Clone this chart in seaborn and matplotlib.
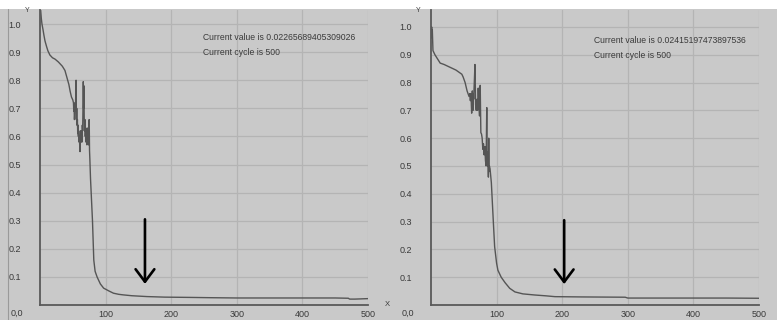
import matplotlib
matplotlib.use("Agg")
import matplotlib.pyplot as plt
import seaborn as sns
import pandas as pd
from matplotlib.patches import Rectangle
from matplotlib.lines import Line2D

# ---- data ----
left_cycle = [0, 1, 2, 3, 4.6, 6, 7.6, 10, 12, 15, 19, 23, 28, 34, 38, 41, 44, 46, 48, 50,
              51, 51.5, 52, 52.5, 53, 53.5, 54, 54.5, 55, 55.5, 56, 56.5, 57, 57.5, 58, 58.5,
              59, 59.5, 60, 60.5, 61, 61.5, 62, 62.5, 63, 63.5, 64, 64.5, 65, 65.5, 66, 66.5,
              67, 67.5, 68, 68.5, 69, 69.5, 70, 70.5, 71, 71.5, 72, 72.5, 73, 73.5, 74, 74.5,
              75, 75.5, 76, 77, 78, 79, 80, 81, 82, 84, 87, 92, 97,
              105, 112, 120, 127, 140, 163, 190, 229, 260, 300, 350, 400, 450, 470, 472, 480, 500]
left_value = [1.08, 1.05, 1.02, 1.0, 0.98, 0.96, 0.94, 0.92, 0.905, 0.89, 0.88, 0.875, 0.865,
              0.85, 0.835, 0.81, 0.785, 0.76, 0.74, 0.73,
              0.72, 0.69, 0.70, 0.66, 0.68, 0.72, 0.69, 0.75, 0.80, 0.66, 0.70, 0.64,
              0.66, 0.61, 0.64, 0.60, 0.62, 0.58, 0.60, 0.57, 0.546, 0.60, 0.62, 0.58,
              0.59, 0.62, 0.58, 0.64, 0.62, 0.70, 0.795, 0.70, 0.78, 0.64, 0.62, 0.66,
              0.60, 0.63, 0.58, 0.61, 0.60, 0.57, 0.63, 0.59, 0.58, 0.60, 0.57, 0.58,
              0.66, 0.55, 0.52, 0.45, 0.40, 0.35, 0.30, 0.23, 0.16, 0.12, 0.10, 0.075, 0.06,
              0.05, 0.042, 0.038, 0.036, 0.033, 0.03, 0.028, 0.027, 0.026, 0.025, 0.025,
              0.025, 0.025, 0.024, 0.021, 0.021, 0.0227]

right_cycle = [0, 0.5, 1, 1.5, 2, 3, 6, 10, 14, 20, 29, 38, 47, 49, 52, 55, 58, 59, 60, 61,
               61.5, 62, 62.5, 63, 63.5, 64, 64.5, 65, 66, 67, 68, 69, 70, 71, 72, 73, 74, 75,
               76, 77, 78, 79, 80, 81, 82, 83, 84, 85, 85.5, 86, 86.5, 87, 87.5, 88, 88.5, 89,
               90, 92, 95, 97, 100, 102, 107, 113, 120, 128, 140, 158, 175, 189,
               230, 296, 300, 350, 400, 450, 500]
right_value = [1.0, 0.96, 1.0, 0.97, 0.99, 0.915, 0.90, 0.885, 0.87, 0.865, 0.855, 0.845,
               0.83, 0.82, 0.80, 0.77, 0.75, 0.76, 0.735, 0.76,
               0.72, 0.69, 0.74, 0.77, 0.72, 0.70, 0.76, 0.74, 0.80, 0.865,
               0.72, 0.70, 0.74, 0.70, 0.78, 0.72, 0.68, 0.79,
               0.62, 0.615, 0.60, 0.56, 0.58, 0.54, 0.57, 0.52, 0.50, 0.71, 0.53, 0.55, 0.50,
               0.52, 0.46, 0.60, 0.48, 0.50,
               0.49, 0.44, 0.30, 0.21, 0.15, 0.125, 0.10, 0.08, 0.06, 0.047, 0.04, 0.036,
               0.033, 0.03, 0.029, 0.028, 0.025, 0.025, 0.025, 0.025, 0.0242]

x_ticks = [100, 200, 300, 400, 500]
y_ticks = [0.1, 0.2, 0.3, 0.4, 0.5, 0.6, 0.7, 0.8, 0.9, 1.0]
y_ticklabels = ["0.1", "0.2", "0.3", "0.4", "0.5", "0.6", "0.7", "0.8", "0.9", "1.0"]

left_msg = ["Current value is 0.02265689405309026", "Current cycle is 500"]
right_msg = ["Current value is 0.02415197473897536", "Current cycle is 500"]
arrow_x = [160, 203]

sns.set_theme(style="white")
plt.rcParams["font.family"] = ["Liberation Sans", "DejaVu Sans"]

BG = "#c9c9c9"
GRID = "#b4b4b4"
LINE = "#555555"
TXT = "#3a3a3a"

fig = plt.figure(figsize=(7.77, 3.2), dpi=100, facecolor=BG)
# white strip at the top
fig.patches.append(Rectangle((0, 1 - 9 / 320), 1, 9 / 320, transform=fig.transFigure,
                             facecolor="white", edgecolor="none", zorder=-1))
fig.lines.append(Line2D([8 / 777, 8 / 777], [0, 1 - 9 / 320], transform=fig.transFigure,
                        color="#9a9a9a", lw=0.8))

panels = [
    dict(pos=[40 / 777, 15 / 320, 328 / 777, 295 / 320], x=left_cycle, y=left_value,
         msg=left_msg, ax_x=arrow_x[0], ytop=1.05, show_x=True),
    dict(pos=[431 / 777, 15 / 320, 328 / 777, 295 / 320], x=right_cycle, y=right_value,
         msg=right_msg, ax_x=arrow_x[1], ytop=1.061, show_x=False),
]

for p in panels:
    ax = fig.add_axes(p["pos"])
    ax.set_facecolor(BG)
    df = pd.DataFrame({"cycle": p["x"], "value": p["y"]})
    sns.lineplot(data=df, x="cycle", y="value", ax=ax, color=LINE, lw=1.0,
                 estimator=None, sort=False)
    ax.set_xlim(0, 500)
    ax.set_ylim(0, p["ytop"])
    ax.set_xticks(x_ticks)
    ax.set_xticklabels([str(t) for t in x_ticks])
    ax.set_yticks(y_ticks)
    ax.set_yticklabels(y_ticklabels)
    ax.set_xlabel("")
    ax.set_ylabel("")
    for t in y_ticks:
        ax.axhline(t, color=GRID, lw=0.9, zorder=0)
    for t in x_ticks:
        ax.axvline(t, color=GRID, lw=0.9, zorder=0)
    for s in ["top", "right"]:
        ax.spines[s].set_visible(False)
    for s in ["left", "bottom"]:
        ax.spines[s].set_color("#5a5a5a")
        ax.spines[s].set_linewidth(1.3)
    ax.tick_params(axis="y", length=3, direction="inout", width=0.8, colors="#5a5a5a",
                   labelcolor=TXT, labelsize=6.5, pad=12)
    ax.tick_params(axis="x", length=3, direction="inout", width=0.8, colors="#5a5a5a",
                   labelcolor=TXT, labelsize=6.5, pad=2)
    # 0,0 label at corner
    ax.text(-0.07, -0.028, "0,0", transform=ax.transAxes, fontsize=6.5, color=TXT,
            ha="center", va="center")
    ax.text(-0.04, 1.0, "Y", transform=ax.transAxes, fontsize=5, color=TXT,
            ha="center", va="center")
    if p["show_x"]:
        ax.text(1.06, 0.0, "X", transform=ax.transAxes, fontsize=5.5, color=TXT,
                ha="center", va="center", clip_on=False)
    ax.text(248, 0.952, p["msg"][0], fontsize=6.2, color=TXT, ha="left", va="center")
    ax.text(248, 0.898, p["msg"][1], fontsize=6.2, color=TXT, ha="left", va="center")
    ax.annotate("", xy=(p["ax_x"], 0.075), xytext=(p["ax_x"], 0.305),
                arrowprops=dict(arrowstyle="->,head_length=0.6,head_width=0.45",
                                lw=1.9, color="black", mutation_scale=15,
                                shrinkA=0, shrinkB=0))

fig.savefig("out.png", dpi=100, facecolor=BG)
